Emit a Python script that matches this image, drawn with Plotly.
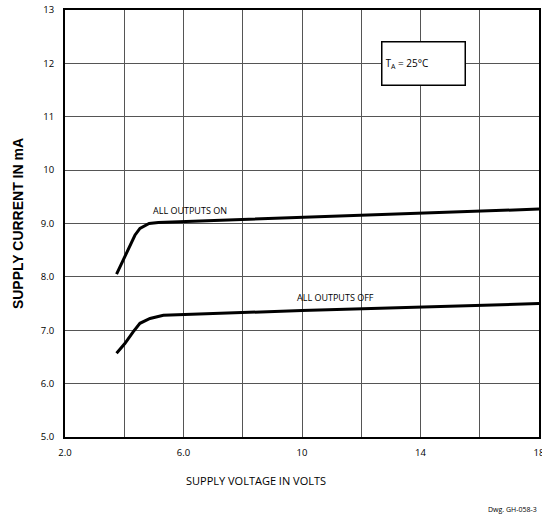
import plotly.graph_objects as go

# Data
volts_on = [3.74, 4.05, 4.36, 4.53, 4.84, 5.15, 10.0, 18.0]
current_on = [8.05, 8.40, 8.78, 8.91, 9.00, 9.02, 9.11, 9.27]
volts_off = [3.74, 4.02, 4.30, 4.53, 4.87, 5.32, 10.0, 18.0]
current_off = [6.57, 6.75, 6.97, 7.13, 7.22, 7.28, 7.37, 7.50]

x_ticks = [2, 6, 10, 14, 18]
x_labels = ["2.0", "6.0", "10", "14", "18"]
x_minor = [4, 8, 12, 16]
y_ticks = [5, 6, 7, 8, 9, 10, 11, 12, 13]
y_labels = ["5.0", "6.0", "7.0", "8.0", "9.0", "10", "11", "12", "13"]

FONT = "Open Sans"
GRID = "#555555"

fig = go.Figure()
fig.add_trace(go.Scatter(x=volts_on, y=current_on, mode="lines",
                         line=dict(color="black", width=3), showlegend=False))
fig.add_trace(go.Scatter(x=volts_off, y=current_off, mode="lines",
                         line=dict(color="black", width=3), showlegend=False))

fig.update_layout(
    width=542, height=514,
    margin=dict(l=65, r=3, t=10, b=77, autoexpand=False),
    paper_bgcolor="white", plot_bgcolor="white",
    font=dict(family=FONT, color="black", size=10),
    xaxis=dict(range=[2, 18], tickvals=x_ticks, ticktext=x_labels,
               showgrid=True, gridcolor=GRID, gridwidth=1,
               minor=dict(tickvals=x_minor, showgrid=True, gridcolor=GRID, gridwidth=1, ticks=""),
               showline=True, linecolor="black", linewidth=2, mirror=True,
               ticks="", zeroline=False, ticklabelstandoff=6, ticklabeloverflow="allow",
               automargin=False, tickfont=dict(size=9.5, family=FONT)),
    yaxis=dict(range=[5, 13], tickvals=y_ticks, ticktext=y_labels,
               showgrid=True, gridcolor=GRID, gridwidth=1,
               showline=True, linecolor="black", linewidth=2, mirror=True,
               ticks="", zeroline=False, ticklabelstandoff=7, automargin=False,
               tickfont=dict(size=9.5, family=FONT)),
)

fig.add_annotation(x=6.22, y=9.25, text="ALL OUTPUTS ON", showarrow=False,
                   font=dict(size=9, family=FONT))
fig.add_annotation(x=11.12, y=7.62, text="ALL OUTPUTS OFF", showarrow=False,
                   font=dict(size=9, family=FONT))
fig.add_annotation(x=14.1, y=12, text="T<sub>A</sub> = 25°C", showarrow=False,
                   width=76, height=36, align="left", valign="middle",
                   bgcolor="white", bordercolor="black", borderwidth=1.5, borderpad=3,
                   font=dict(size=10, family=FONT))

fig.add_annotation(xref="paper", yref="paper", x=-0.1, y=0.5,
                   text="<b>SUPPLY CURRENT IN mA</b>", textangle=-90, showarrow=False,
                   font=dict(size=14, family="Liberation Sans", color="black"),
                   xanchor="center", yanchor="middle")
fig.add_annotation(xref="paper", yref="paper", x=0.403, y=-0.103,
                   text="SUPPLY VOLTAGE IN VOLTS", showarrow=False,
                   font=dict(size=11, family=FONT), xanchor="center", yanchor="middle")
fig.add_annotation(xref="paper", yref="paper", x=1.0, y=-0.155,
                   text="Dwg. GH-058-3", showarrow=False,
                   font=dict(size=7, family=FONT), xanchor="right", yanchor="top")

fig.write_html("out.html", config={"displayModeBar": False},
               post_script="document.body.style.margin='0';document.body.style.overflow='hidden';")
